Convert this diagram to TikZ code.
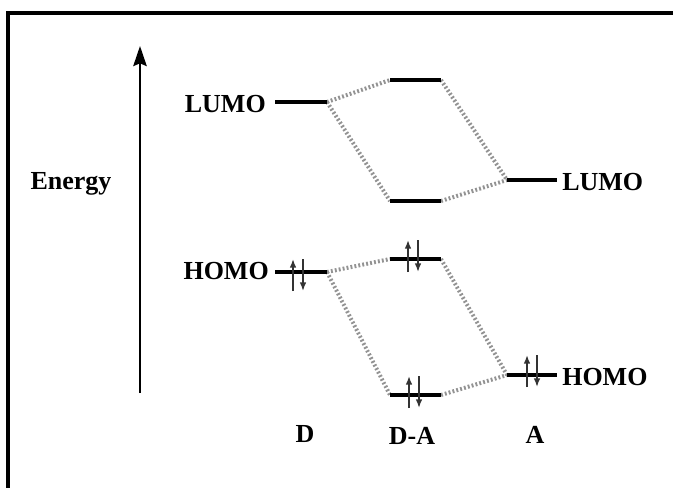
\documentclass[tikz,border=0pt]{standalone}
\usepackage{fontspec}
\setmainfont{Liberation Serif}
\usetikzlibrary{arrows.meta}
\tikzset{
  lvl/.style={line width=3.2pt, black},
  conn/.style={line width=3pt, gray!85, dash pattern=on 1.4pt off 1.6pt},
  lbl/.style={font=\bfseries\fontsize{19.5}{21}\selectfont, inner sep=0pt},
  spin/.style={line width=1.2pt, black!80, -{Latex[length=6.5pt,width=5pt]}},
  pair/.pic={
    \draw[spin] (-5,16) -- (-5,-16);
    \draw[spin] (5,-16) -- (5,16);
  }
}
\begin{document}
\begin{tikzpicture}[x=0.75pt,y=-0.75pt]
\useasboundingbox (0,0) rectangle (673,487);
\fill[white] (0,0) rectangle (673,487);
% frame
\draw[line width=2.4pt] (680,13) -- (8,13) -- (8,495);
% energy axis
\coordinate (ax0) at (140,393);
\coordinate (ax1) at (140,46);
\draw[line width=1.8pt, -{Stealth[length=15pt,width=10pt,inset=2pt]}] (ax0) -- (ax1);
\node[lbl] (energy) at (71,184) {Energy};
% level end points
\coordinate (dLl) at (275,102); \coordinate (dLr) at (327,102);
\coordinate (uLl) at (390,80);  \coordinate (uLr) at (441,80);
\coordinate (wLl) at (390,201); \coordinate (wLr) at (441,201);
\coordinate (aLl) at (507,180); \coordinate (aLr) at (557,180);
\coordinate (dHl) at (275,272); \coordinate (dHr) at (327,272);
\coordinate (uHl) at (390,259); \coordinate (uHr) at (441,259);
\coordinate (wHl) at (390,395); \coordinate (wHr) at (441,395);
\coordinate (aHl) at (507,375); \coordinate (aHr) at (557,375);
% connectors
\draw[conn] (dLr) -- (uLl);
\draw[conn] (dLr) -- (wLl);
\draw[conn] (uLr) -- (aLl);
\draw[conn] (wLr) -- (aLl);
\draw[conn] (dHr) -- (uHl);
\draw[conn] (dHr) -- (wHl);
\draw[conn] (uHr) -- (aHl);
\draw[conn] (wHr) -- (aHl);
% levels
\foreach \a/\b in {dLl/dLr,uLl/uLr,wLl/wLr,aLl/aLr,dHl/dHr,uHl/uHr,wHl/wHr,aHl/aHr}
  \draw[lvl] (\a) -- (\b);
% electron pairs
\pic at (298,275) {pair};
\pic at (413,256) {pair};
\pic at (414,392) {pair};
\pic at (532,371) {pair};
% labels
\node[lbl, anchor=east] (lumoD) at (266,104) {LUMO};
\node[lbl, anchor=west] (lumoA) at (562,182) {LUMO};
\node[lbl, anchor=east] (homoD) at (269,271) {HOMO};
\node[lbl, anchor=west] (homoA) at (562,377) {HOMO};
\node[lbl] (labD) at (305,434) {D};
\node[lbl] (labDA) at (412,436) {D-A};
\node[lbl] (labA) at (535,435) {A};
\end{tikzpicture}
\end{document}
